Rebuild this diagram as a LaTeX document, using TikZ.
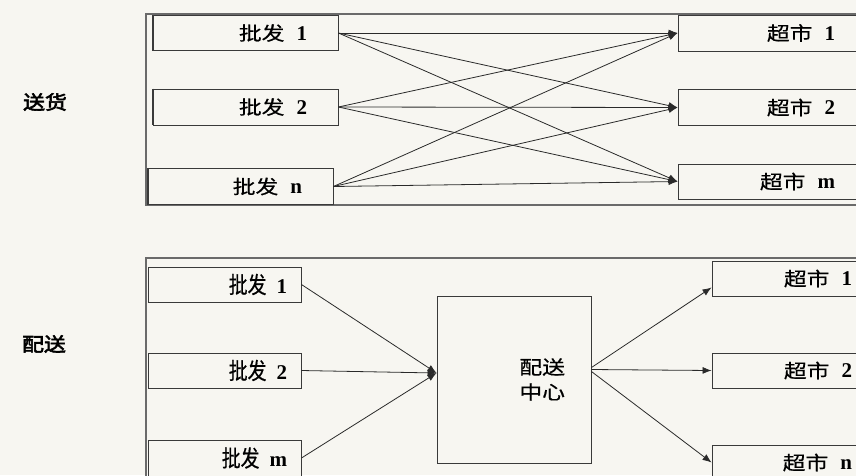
\documentclass[tikz,border=0pt]{standalone}
\usepackage{fontspec}
\setmainfont{Liberation Serif}
\newfontfamily\cjkA{Noto Sans CJK SC}[FakeStretch=1.2,FakeBold=0.6]
\newfontfamily\cjkB{Noto Sans CJK SC}[FakeStretch=0.82,FakeBold=0.6]
\newfontfamily\cjkH{Noto Sans CJK SC}[FakeStretch=1.15,FakeBold=3]
\newcommand\dg[1]{{\bfseries\fontsize{21}{22}\selectfont #1}}
\usetikzlibrary{arrows.meta}
\definecolor{bg}{HTML}{F7F6F1}
\definecolor{linec}{HTML}{3A3A3A}
\definecolor{arrc}{HTML}{2A2A2A}
\definecolor{framec}{HTML}{6A6A6A}
\tikzset{
  bx/.style={draw=linec, line width=0.9pt, fill=bg, inner ysep=0pt, align=right},
  fA/.style={font=\fontsize{19}{22}\selectfont},
  fB/.style={font=\fontsize{23}{25}\selectfont},
  conn/.style={draw=arrc, line width=0.8pt, -{Latex[length=9pt,width=7pt]}},
  frame/.style={draw=framec, line width=1.1pt},
  lab/.style={font=\fontsize{19}{22}\selectfont\cjkH, inner sep=0pt},
}
\begin{document}
\begin{tikzpicture}[x=1pt,y=-1pt]
\useasboundingbox (0,0) rectangle (856,475);
\clip (0,0) rectangle (856,475);
\fill[bg] (0,0) rectangle (856,475);
% frames
\draw[frame] (860,14) -- (146,14) -- (146,205) -- (860,205);
\draw[frame] (860,258) -- (146,258) -- (146,480);
% labels
\node[lab] (L1) at (45,102) {送货};
\node[lab] (L2) at (44,344) {配送};
% top panel
\node[bx, fA, text width=123pt, inner xsep=31pt, minimum height=35pt] (a1) at (245.5,33) {{\cjkA 批发}\hspace{12pt}\dg{1}};
\node[bx, fA, text width=123pt, inner xsep=31pt, minimum height=36pt] (a2) at (245.5,107) {{\cjkA 批发}\hspace{12pt}\dg{2}};
\node[bx, fA, text width=123pt, inner xsep=31pt, minimum height=36pt] (an) at (240.5,186.5) {{\cjkA 批发}\hspace{12pt}\dg{n}};
\draw[line width=2pt, draw=linec] (a1.north west) -- (a1.south west);
\draw[line width=2pt, draw=linec] (a2.north west) -- (a2.south west);
\draw[line width=2pt, draw=linec] (an.north west) -- (an.south west);
\node[bx, fA, text width=122pt, inner xsep=35pt, minimum height=36pt] (b1) at (774,33) {{\cjkA 超市}\hspace{12pt}\dg{1}};
\node[bx, fA, text width=122pt, inner xsep=35pt, minimum height=36pt] (b2) at (774,107.5) {{\cjkA 超市}\hspace{12pt}\dg{2}};
\node[bx, fA, text width=122pt, inner xsep=35pt, minimum height=35pt] (bm) at (774,181.5) {{\cjkA 超市}\hspace{12pt}\dg{m}};
\foreach \s in {a1,a2,an}{
  \foreach \t in {b1,b2,bm}{
    \draw[conn] (\s.east) -- (\t.west);
  }
}
% bottom panel
\node[bx, fB, text width=125pt, inner xsep=14pt, minimum height=35pt] (c1) at (224.5,284.5) {{\cjkB 批发}\hspace{10pt}\dg{1}};
\node[bx, fB, text width=125pt, inner xsep=14pt, minimum height=35pt] (c2) at (224.5,370.5) {{\cjkB 批发}\hspace{10pt}\dg{2}};
\node[bx, fB, text width=125pt, inner xsep=14pt, minimum height=36pt] (cm) at (224.5,458) {{\cjkB 批发}\hspace{10pt}\dg{m}};
\node[bx, fA, text width=102pt, inner xsep=26pt, minimum height=167pt, font=\fontsize{19}{25}\selectfont\cjkA] (D) at (514,379.5) {配送\\中心};
\node[bx, fA, text width=112pt, inner xsep=28pt, minimum height=35pt] (d1) at (796,278.5) {{\cjkA 超市}\hspace{12pt}\dg{1}};
\node[bx, fA, text width=112pt, inner xsep=28pt, minimum height=35pt] (d2) at (796,370.5) {{\cjkA 超市}\hspace{12pt}\dg{2}};
\node[bx, fA, text width=112pt, inner xsep=28pt, minimum height=35pt] (dn) at (796,462.5) {{\cjkA 超市}\hspace{12pt}\dg{n}};
\draw[conn] (c1.east) -- ([yshift=6.5pt]D.west);
\draw[conn] (c2.east) -- ([yshift=6.5pt]D.west);
\draw[conn] (cm.east) -- ([yshift=6.5pt]D.west);
\draw[conn] ([yshift=12pt]D.east) -- ([yshift=-9pt]d1.west);
\draw[conn] ([yshift=10pt]D.east) -- (d2.west);
\draw[conn] ([yshift=8pt]D.east) -- (dn.west);
\end{tikzpicture}
\end{document}
